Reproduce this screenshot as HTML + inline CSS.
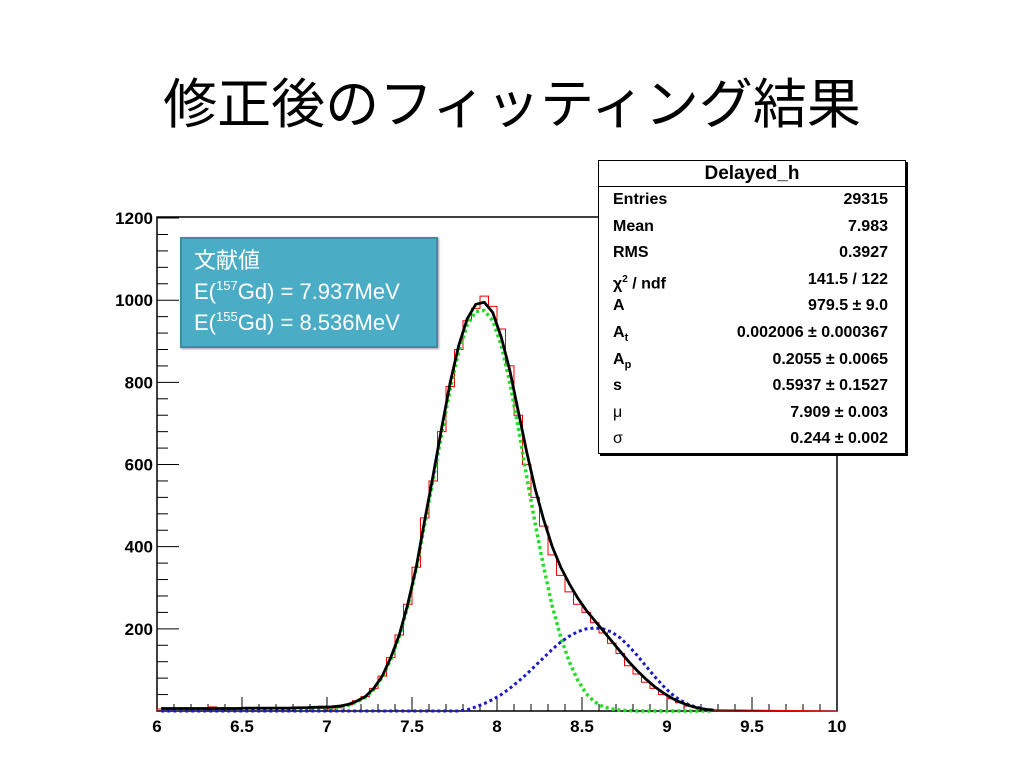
<!DOCTYPE html>
<html><head><meta charset="utf-8">
<style>
body{margin:0;width:1024px;height:768px;background:#fff;overflow:hidden;position:relative;font-family:"Liberation Sans",sans-serif}
#title{position:absolute;left:0;width:1024px;top:60px;text-align:center;font-family:"Liberation Sans","Noto Sans CJK JP",sans-serif;font-size:54px;color:#000}
#info{position:absolute;left:180px;top:237px;width:258px;height:111px;background:#4bacc6;border:2px solid #3d8ca3;color:#fff;font-family:"Liberation Sans","Noto Sans CJK JP",sans-serif;font-size:22px;line-height:31px;padding:6px 0 0 12px;box-sizing:border-box;box-shadow:1px 1px 2px #999}
#info sup{font-size:13px;vertical-align:9px;line-height:0}
#stats{position:absolute;left:598px;top:160px;width:308px;height:294px;background:#fff;border:1px solid #000;box-shadow:2px 2px 0 #000;font-weight:bold;font-size:16px;box-sizing:border-box}
#stats .h{height:25px;border-bottom:1px solid #000;text-align:center;font-size:19px;line-height:25px}
#stats .r{display:flex;justify-content:space-between;padding:0 17px 0 14px;height:26.6px;line-height:26.6px}
</style></head><body>
<div id="title">修正後のフィッティング結果</div>
<svg id="chart" width="1024" height="768" style="position:absolute;left:0;top:0"></svg>
<div id="info">文献値<br>E(<sup>157</sup>Gd) = 7.937MeV<br>E(<sup>155</sup>Gd) = 8.536MeV</div>
<div id="stats">
<div class="h">Delayed_h</div>
<div class="r"><span>Entries</span><span>29315</span></div>
<div class="r"><span>Mean</span><span>7.983</span></div>
<div class="r"><span>RMS</span><span>0.3927</span></div>
<div class="r"><span>χ<sup style="font-size:10px">2</sup> / ndf</span><span>141.5 / 122</span></div>
<div class="r"><span>A</span><span>979.5 ± 9.0</span></div>
<div class="r"><span>A<sub style="font-size:11px">t</sub></span><span>0.002006 ± 0.000367</span></div>
<div class="r"><span>A<sub style="font-size:11px">p</sub></span><span>0.2055 ± 0.0065</span></div>
<div class="r"><span>s</span><span>0.5937 ± 0.1527</span></div>
<div class="r"><span style="font-weight:normal">μ</span><span>7.909 ± 0.003</span></div>
<div class="r"><span style="font-weight:normal">σ</span><span>0.244 ± 0.002</span></div>
</div>
<script>
const xStart=6.0, xStep=0.05;
const histValues=[5,4,6,5,5,6,10,5,6,5,6,7,6,5,7,6,8,7,10,12,
5,8,15,25,35,55,85,130,185,260,350,470,560,680,790,880,950,980,1010,985,930,840,720,600,520,450,380,330,290,260,240,215,190,165,140,110,90,70,55,40,30,20,12,8,5,3];
const totalFit=[6,6,6,6,6,6,6,6,6,6,7,7,7,7,7,7,8,8,9,9,
10,12,16,24,35,55,85,130,185,260,350,465,575,690,800,890,955,990,995,970,910,830,730,630,540,465,400,350,310,275,245,220,195,170,145,120,98,78,60,45,32,22,14,8,4,2];
const greenFit=[5,5,5,5,5,5,5,5,5,5,5,5,5,5,5,6,6,6,7,7,
8,10,14,22,33,52,82,125,180,255,345,455,565,675,785,875,940,972,975,950,890,800,690,570,455,350,255,180,120,75,42,22,10,5,2,1,0,0,0,0,0,0,0,0,0,0];
const blueFit=[0,0,0,0,0,0,0,0,0,0,0,0,0,0,0,0,0,0,0,0,
0,0,0,0,0,0,0,0,0,0,0,0,0,0,0,0,3,10,18,28,40,55,72,90,110,130,150,168,182,193,200,202,200,192,178,158,135,110,85,62,42,27,16,9,4,2];
const xTicks=[6,6.5,7,7.5,8,8.5,9,9.5,10];
const yTicks=[200,400,600,800,1000,1200];
const X=v=>157+(v-6)*170, Y=c=>711-c*0.4108;
const svg=document.getElementById('chart'), NS='http://www.w3.org/2000/svg';
function mk(t,a){const e=document.createElementNS(NS,t);for(const k in a)e.setAttribute(k,a[k]);svg.appendChild(e);return e;}
let e=mk('rect',{x:157,y:217,width:680,height:494,fill:'none',stroke:'#000','stroke-width':1.5});


for(let v=6;v<=10.001;v+=0.1){const big=Math.abs(v*2-Math.round(v*2))<0.01;const t=mk('line',{x1:X(v),x2:X(v),y1:711,y2:711-(big?14:7),stroke:'#000'});

}
for(let c=0;c<=1200;c+=40){const big=c%200===0;const t=mk('line',{x1:157,x2:157+(big?22:11),y1:Y(c),y2:Y(c),stroke:'#000'});

}
xTicks.forEach(v=>{const t=mk('text',{x:X(v),y:732,'text-anchor':'middle','font-size':17,'font-weight':'bold'});t.textContent=v;

});
yTicks.forEach(v=>{const t=mk('text',{x:153,y:Y(v)+6,'text-anchor':'end','font-size':17,'font-weight':'bold'});t.textContent=v;

});
let d='M'+X(xStart)+','+Y(0);
histValues.forEach((c,i)=>{const x0=X(xStart+i*xStep),x1=X(xStart+(i+1)*xStep);d+=' L'+x0+','+Y(c)+' L'+x1+','+Y(c);});
d+=' L'+X(10)+','+Y(0);
e=mk('path',{d:d,fill:'none',stroke:'#e00',"stroke-width":1});


function line(arr,col,w,dash,name){const p=arr.map((c,i)=>(i?'L':'M')+X(xStart+(i+0.5)*xStep)+','+Y(c)).join(' ');
const l=mk('path',{d:p,fill:'none',stroke:col,'stroke-width':w,'stroke-dasharray':dash,'stroke-linejoin':'round'});

}
line(greenFit,'#22dd22',3.5,'3,3','gaussian-157-fit');
line(blueFit,'#1a1acc',3,'3,3','gaussian-155-fit');
line(totalFit,'#000',2.8,'none','total-fit');
</script>
</body></html>
